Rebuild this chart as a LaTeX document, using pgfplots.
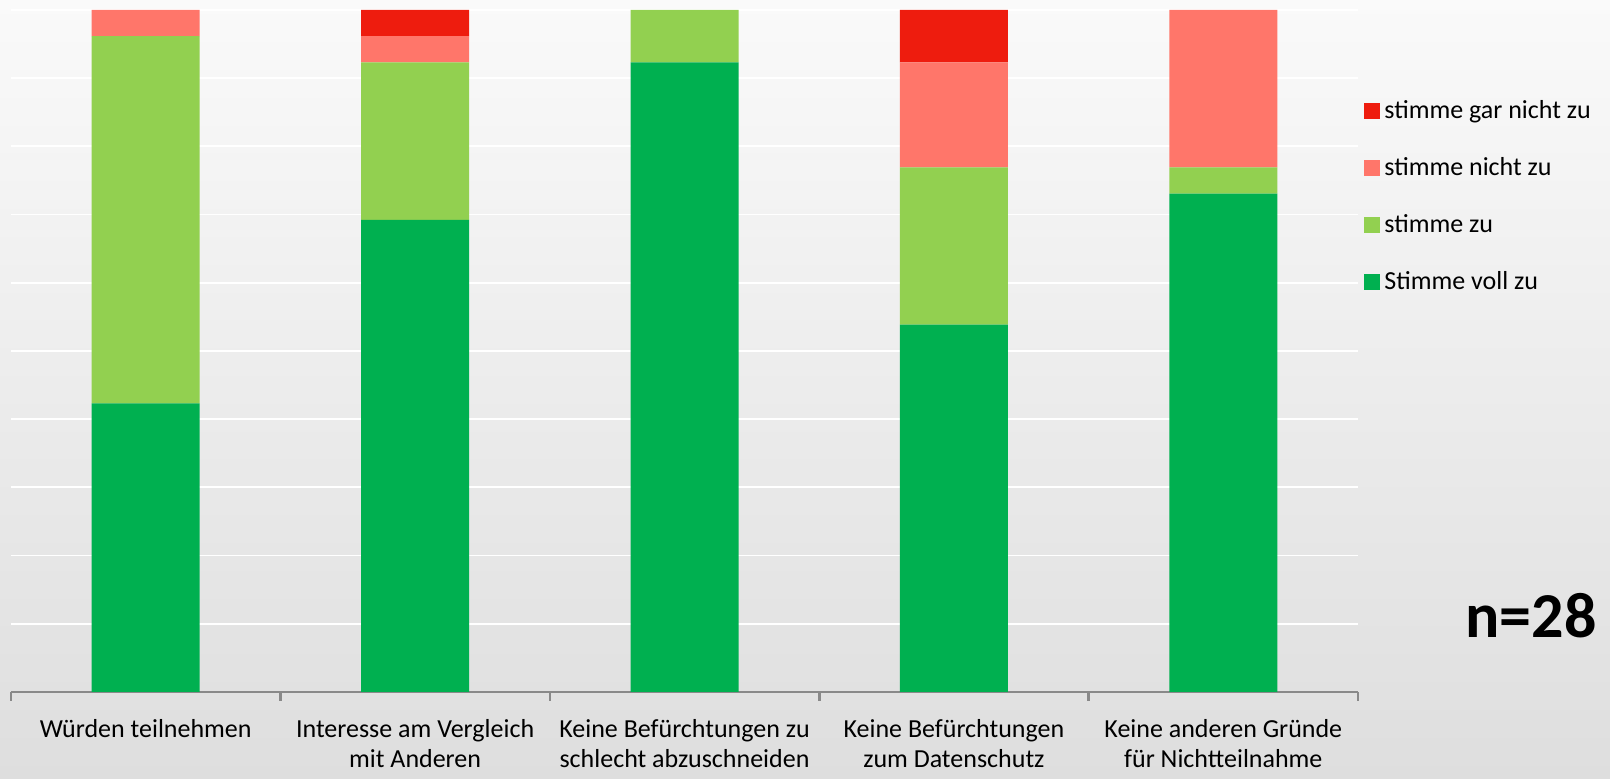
\documentclass[border=0pt]{standalone}
\usepackage{fontspec}
\setmainfont{Carlito}
\usepackage{pgfplots}
\pgfplotsset{compat=1.18}
\definecolor{cgar}{HTML}{EE1C0E}
\definecolor{cnicht}{HTML}{FF766A}
\definecolor{czu}{HTML}{92D050}
\definecolor{cvoll}{HTML}{00B050}
\definecolor{axgray}{HTML}{898989}
\definecolor{bgtop}{HTML}{FAFAFA}
\definecolor{bgbot}{HTML}{DEDEDE}
\begin{document}
\begin{tikzpicture}
\useasboundingbox (0pt,0pt) rectangle (805pt,389.5pt);
\clip (0pt,0pt) rectangle (805pt,389.5pt);
\shade[top color=bgtop, bottom color=bgbot] (0pt,0pt) rectangle (805pt,389.5pt);
\begin{axis}[
  at={(5.5pt,43.5pt)}, anchor=south west,
  scale only axis, width=673.5pt, height=341pt,
  ybar stacked, bar width=54pt,
  ymin=0, ymax=100, xmin=-0.5, xmax=4.5,
  axis x line*=bottom, axis y line*=left,
  y axis line style={draw=none},
  x axis line style={draw=axgray, line width=1.3pt},
  ytick={0,10,...,100}, yticklabels={}, ytick style={draw=none},
  ymajorgrids, major grid style={white, line width=0.9pt},
  xtick={0,1,2,3,4}, xtick style={draw=none},
  xticklabels={{Würden teilnehmen},{Interesse am Vergleich\\mit Anderen},{Keine Befürchtungen zu\\schlecht abzuschneiden},{Keine Befürchtungen\\zum Datenschutz},{Keine anderen Gründe\\für Nichtteilnahme}},
  xticklabel style={align=center, font=\fontsize{13}{15}\selectfont, yshift=-10pt},
  extra x ticks={-0.5,0.5,1.5,2.5,3.5,4.5},
  extra x tick labels={},
  extra x tick style={xtick style={draw=axgray, line width=1.3pt}, major tick length=4.5pt, tick align=outside, grid=none},
  reverse legend,
  legend cell align=left,
  legend style={at={(1.0,0.88)}, anchor=north west, draw=none, fill=none,
    font=\fontsize{13}{16}\selectfont, row sep=14pt},
  legend image code/.code={\fill[#1] (0pt,-4pt) rectangle (8pt,4pt);},
]
\addplot[fill=cvoll, draw=none] coordinates {(0,42.31) (1,69.23) (2,92.31) (3,53.85) (4,73.08)};
\addplot[fill=czu, draw=none] coordinates {(0,53.85) (1,23.08) (2,7.69) (3,23.08) (4,3.85)};
\addplot[fill=cnicht, draw=none] coordinates {(0,3.85) (1,3.85) (2,0) (3,15.38) (4,23.08)};
\addplot[fill=cgar, draw=none] coordinates {(0,0) (1,3.85) (2,0) (3,7.69) (4,0)};
\legend{Stimme voll zu, stimme zu, stimme nicht zu, stimme gar nicht zu}
\end{axis}
\node[font=\fontsize{32}{38}\selectfont\bfseries] at (765.5pt,81.5pt) {n=28};
\end{tikzpicture}
\end{document}
